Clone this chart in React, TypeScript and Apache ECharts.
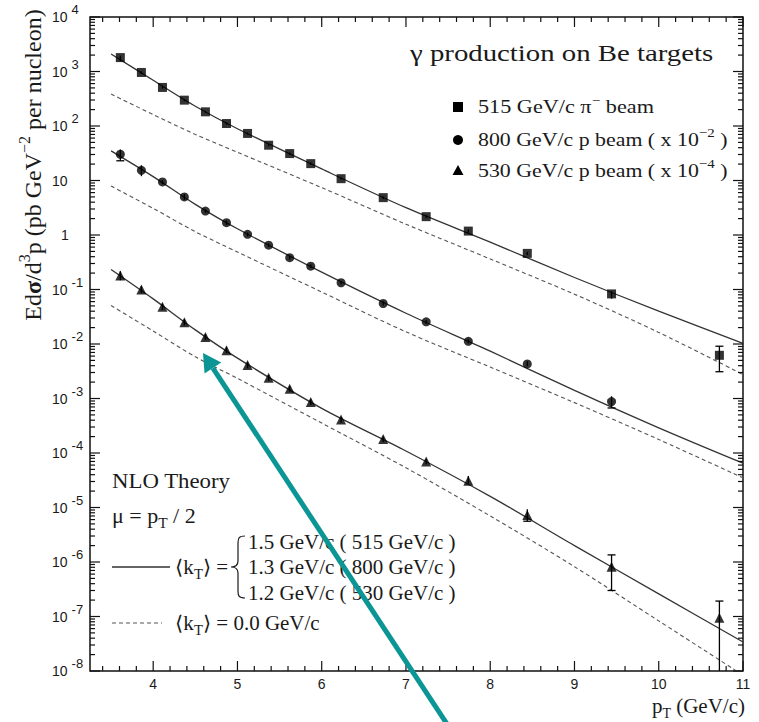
import React, { useEffect, useRef } from 'react';
import * as echarts from 'echarts';

// ---------- data ----------
const pT_pi515 = [3.61, 3.86, 4.11, 4.37, 4.62, 4.87, 5.12, 5.37, 5.62, 5.87, 6.23, 6.73, 7.24, 7.74, 8.44, 9.44, 10.72];
const xs_pi515 = [1800, 960, 510, 298, 182, 111, 73, 44.4, 31.2, 20.4, 10.8, 4.85, 2.17, 1.18, 0.46, 0.083, 0.0062];
const lo_pi515 = [1550, 900, 485, 285, 175, 106, 70, 42.5, 29.8, 19.5, 10.3, 4.6, 2.05, 1.1, 0.43, 0.068, 0.0031];
const hi_pi515 = [1950, 1010, 535, 310, 189, 116, 76, 46.4, 32.6, 21.3, 11.3, 5.1, 2.3, 1.26, 0.49, 0.093, 0.0091];

const pT_p800 = [3.61, 3.86, 4.11, 4.37, 4.62, 4.87, 5.12, 5.37, 5.62, 5.87, 6.23, 6.73, 7.24, 7.74, 8.44, 9.44];
const xs_p800 = [30.3, 15.4, 9.4, 5.0, 2.75, 1.68, 1.03, 0.65, 0.383, 0.268, 0.133, 0.0553, 0.0255, 0.0112, 0.0043, 0.00088];
const lo_p800 = [23, 12, 8.6, 4.4, 2.55, 1.52, 0.95, 0.6, 0.355, 0.248, 0.123, 0.051, 0.0235, 0.0103, 0.0039, 0.00067];
const hi_p800 = [37, 19, 10.2, 5.6, 2.95, 1.85, 1.11, 0.7, 0.41, 0.29, 0.143, 0.06, 0.0277, 0.0122, 0.0048, 0.0011];

const pT_p530 = [3.61, 3.86, 4.11, 4.37, 4.62, 4.87, 5.12, 5.37, 5.62, 5.87, 6.23, 6.73, 7.24, 7.74, 8.44, 9.44, 10.72];
const xs_p530 = [0.181, 0.1, 0.048, 0.0251, 0.0135, 0.0077, 0.0041, 0.0024, 0.00151, 0.00086, 0.00041, 0.00018, 7.0e-5, 3.1e-5, 7.3e-6, 8.2e-7, 9.5e-8];
const lo_p530 = [0.148, 0.086, 0.042, 0.022, 0.0119, 0.0068, 0.0036, 0.0021, 0.00134, 0.00076, 0.00036, 0.00016, 6.2e-5, 2.8e-5, 5.6e-6, 3.0e-7, 1e-8];
const hi_p530 = [0.217, 0.115, 0.055, 0.0285, 0.0152, 0.0087, 0.0046, 0.0027, 0.0017, 0.00097, 0.00046, 0.0002, 7.8e-5, 3.8e-5, 9.3e-6, 1.35e-6, 1.92e-7];

// NLO theory curves
const thX = [3.5, 4, 4.5, 5, 6, 7, 8, 9, 10, 11];
const nlo_pi515_kt = [2100, 690, 230, 89, 16.3, 3.17, 0.74, 0.166, 0.04, 0.0103];
const nlo_pi515_0 = [385, 162, 70, 33, 7.4, 1.58, 0.363, 0.082, 0.0163, 0.00275];
const nlo_p800_kt = [35, 11.8, 3.65, 1.3, 0.208, 0.0367, 0.00738, 0.00141, 2.9e-4, 6.5e-5];
const nlo_p800_0 = [7.9, 3.08, 1.15, 0.488, 0.0899, 0.0167, 0.00377, 8.4e-4, 1.77e-4, 3.5e-5];
const nlo_p530_kt = [0.233, 0.0673, 0.01815, 0.0055, 6.6e-4, 1.09e-4, 1.6e-5, 2.0e-6, 2.6e-7, 3.4e-8];
const nlo_p530_0 = [0.0508, 0.0173, 0.00583, 0.00234, 3.54e-4, 5.35e-5, 7.0e-6, 8.2e-7, 8.3e-8, 8.4e-9];

// axes
const X_MIN = 3.25;
const X_MAX = 11;
const Y_MIN = 1e-8;
const Y_MAX = 1e4;
const xTickLabels = [4, 5, 6, 7, 8, 9, 10, 11];
const yDecades = [1e-8, 1e-7, 1e-6, 1e-5, 1e-4, 1e-3, 1e-2, 1e-1, 1, 10, 100, 1e3, 1e4];

// ---------- styling ----------
const SERIF = 'Liberation Serif, serif';
const SANS = 'Liberation Sans, sans-serif';
const INK = '#1a1a1a';

echarts.graphic.registerShape(
  'brace',
  echarts.graphic.extendPath(
    'M16,0 C10,0 9,2 9,7 L9,25 C9,29 7,31 2,31 C7,31 9,33 9,37 L9,55 C9,60 10,62 16,62',
    {}
  )
);

// tick list (major + minor) for the frame
function buildTicks() {
  const out: number[][] = [];
  const xMinor: number[] = [];
  for (let i = 17; i < 55; i++) {
    const v = Math.round(i * 0.2 * 10) / 10;
    if (Math.abs(v - Math.round(v)) > 1e-6) xMinor.push(v);
  }
  xTickLabels.forEach((v) => { out.push([v, 1, 0, 10]); out.push([v, 1, 1, 10]); });
  xMinor.forEach((v) => { out.push([v, 1, 0, 5]); out.push([v, 1, 1, 5]); });
  yDecades.forEach((v) => { out.push([5, v, 2, 10]); out.push([5, v, 3, 10]); });
  for (let e = -8; e < 4; e++) {
    for (let k = 2; k <= 9; k++) {
      const v = k * Math.pow(10, e);
      out.push([5, v, 2, 5]);
      out.push([5, v, 3, 5]);
    }
  }
  return out;
}

function errorSeries(name: string, xs: number[], ys: number[], lo: number[], hi: number[]) {
  return {
    name,
    type: 'custom',
    z: 4,
    data: xs.map((x, i) => [x, ys[i], lo[i], hi[i]]),
    encode: { x: 0, y: 1 },
    renderItem: (params: any, api: any) => {
      const x = api.value(0);
      const pc = api.coord([x, api.value(1)]);
      const pl = api.coord([x, Math.max(api.value(2), Y_MIN)]);
      const ph = api.coord([x, api.value(3)]);
      const children: any[] = [
        { type: 'line', shape: { x1: ph[0], y1: ph[1], x2: pl[0], y2: pl[1] }, style: { stroke: '#000', lineWidth: 1.3 } },
      ];
      if (pc[1] - ph[1] > 6) {
        children.push({ type: 'line', shape: { x1: ph[0] - 4, y1: ph[1], x2: ph[0] + 4, y2: ph[1] }, style: { stroke: '#000', lineWidth: 1.3 } });
      }
      if (pl[1] - pc[1] > 6 && api.value(2) > Y_MIN) {
        children.push({ type: 'line', shape: { x1: pl[0] - 4, y1: pl[1], x2: pl[0] + 4, y2: pl[1] }, style: { stroke: '#000', lineWidth: 1.3 } });
      }
      return { type: 'group', children };
    },
  };
}

function curve(name: string, ys: number[], dashed: boolean) {
  return {
    name,
    type: 'line',
    z: 2,
    data: thX.map((x, i) => [x, ys[i]]),
    showSymbol: false,
    symbol: 'none',
    smooth: 0.3,
    clip: true,
    lineStyle: dashed
      ? { color: '#555', width: 1.1, type: [4, 3] }
      : { color: '#333', width: 1.3, type: 'solid' },
  };
}

function markers(name: string, xs: number[], ys: number[], symbol: string, size: number) {
  return {
    name,
    type: 'scatter',
    z: 5,
    symbol,
    symbolSize: size,
    data: xs.map((x, i) => [x, ys[i]]),
    itemStyle: { color: '#000' },
  };
}

const serifRich = (F: number) => {
  const s = Math.round(F * 0.68);
  return {
    n: { fontFamily: SERIF, fontSize: F, lineHeight: Math.round(F * 1.4), verticalAlign: 'middle', fill: INK },
    b: { fontFamily: SERIF, fontSize: F, fontWeight: 'bold', lineHeight: Math.round(F * 1.4), verticalAlign: 'middle', fill: INK },
    sup: { fontFamily: SERIF, fontSize: s, lineHeight: s, verticalAlign: 'top', fill: INK },
    sub: { fontFamily: SERIF, fontSize: s, lineHeight: s, verticalAlign: 'bottom', fill: INK },
  };
};

function txt(x: number, y: number, text: string, F: number, sx = 1, align = 'left', rotation = 0) {
  return {
    type: 'text',
    x,
    y,
    scaleX: sx,
    rotation,
    silent: true,
    style: {
      text,
      x: 0,
      y: 0,
      rich: serifRich(F),
      fontFamily: SERIF,
      fontSize: F,
      fill: INK,
      align,
      verticalAlign: 'middle',
      textAlign: align,
      textVerticalAlign: 'middle',
    },
  };
}

export default function App() {
  const ref = useRef<HTMLDivElement>(null);
  useEffect(() => {
    if (!ref.current) return;
    const chart = echarts.init(ref.current, undefined, { renderer: 'svg' });

    // arrow geometry (annotation overlay)
    const tip = [203, 353];
    const tail = [447, 724];
    const dx = tip[0] - tail[0];
    const dy = tip[1] - tail[1];
    const L = Math.hypot(dx, dy);
    const ux = dx / L;
    const uy = dy / L;
    const base = [tip[0] - ux * 18, tip[1] - uy * 18];
    const nx = -uy;
    const ny = ux;

    const option: any = {
      animation: false,
      backgroundColor: '#fff',
      grid: { left: 90, right: 16, top: 17, bottom: 51, show: true, borderColor: '#111', borderWidth: 1.5 },
      xAxis: {
        type: 'value',
        min: X_MIN,
        max: X_MAX,
        axisLine: { show: false },
        axisTick: { show: false },
        splitLine: { show: false },
        axisLabel: {
          customValues: xTickLabels,
          fontFamily: SANS,
          fontSize: 14,
          color: INK,
          margin: 6,
          formatter: (v: number) => String(v),
        },
      },
      yAxis: {
        type: 'log',
        logBase: 10,
        min: Y_MIN,
        max: Y_MAX,
        axisLine: { show: false },
        axisTick: { show: false },
        splitLine: { show: false },
        minorTick: { show: false },
        axisLabel: {
          customValues: yDecades,
          margin: 38,
          align: 'left',
          formatter: (v: number) => {
            const e = Math.round(Math.log10(v));
            if (e === 0) return '{q| }{b|1}';
            if (e === 1) return '{b|10}';
            return '{b|10}{e|' + e + '}';
          },
          rich: {
            b: { fontFamily: SANS, fontSize: 14, color: INK, lineHeight: 28, verticalAlign: 'middle' },
            e: { fontFamily: SANS, fontSize: 13, color: INK, lineHeight: 13, verticalAlign: 'top', padding: [0, 0, 0, 4] },
            q: { fontFamily: SANS, fontSize: 14, color: INK, lineHeight: 28, width: 9, verticalAlign: 'middle' },
          },
        },
      },
      series: [
        curve('NLO 515 π⁻ ⟨kT⟩=1.5', nlo_pi515_kt, false),
        curve('NLO 515 π⁻ ⟨kT⟩=0', nlo_pi515_0, true),
        curve('NLO 800 p ⟨kT⟩=1.3', nlo_p800_kt, false),
        curve('NLO 800 p ⟨kT⟩=0', nlo_p800_0, true),
        curve('NLO 530 p ⟨kT⟩=1.2', nlo_p530_kt, false),
        curve('NLO 530 p ⟨kT⟩=0', nlo_p530_0, true),
        errorSeries('err 515', pT_pi515, xs_pi515, lo_pi515, hi_pi515),
        errorSeries('err 800', pT_p800, xs_p800, lo_p800, hi_p800),
        errorSeries('err 530', pT_p530, xs_p530, lo_p530, hi_p530),
        markers('515 GeV/c π⁻ beam', pT_pi515, xs_pi515, 'rect', 9),
        markers('800 GeV/c p beam (x10⁻²)', pT_p800, xs_p800, 'circle', 9),
        markers('530 GeV/c p beam (x10⁻⁴)', pT_p530, xs_p530, 'triangle', 10),
        {
          name: 'ticks',
          type: 'custom',
          z: 6,
          silent: true,
          data: buildTicks(),
          encode: { x: 0, y: 1 },
          renderItem: (params: any, api: any) => {
            const cs = params.coordSys;
            const side = api.value(2);
            const len = api.value(3);
            const p = api.coord([api.value(0), api.value(1)]);
            let shape;
            if (side === 0) shape = { x1: p[0], y1: cs.y + cs.height, x2: p[0], y2: cs.y + cs.height - len };
            else if (side === 1) shape = { x1: p[0], y1: cs.y, x2: p[0], y2: cs.y + len };
            else if (side === 2) shape = { x1: cs.x, y1: p[1], x2: cs.x + len, y2: p[1] };
            else shape = { x1: cs.x + cs.width, y1: p[1], x2: cs.x + cs.width - len, y2: p[1] };
            return { type: 'line', shape, style: { stroke: '#111', lineWidth: 1.2 } };
          },
        },
      ],
      graphic: [
        // y-axis title
        txt(33, 165, '{n|Ed}{b|σ}{n|/d}{sup|3}{n|p (pb GeV}{sup|−2}{n| per nucleon)}', 24, 1, 'center', Math.PI / 2),
        // x-axis title
        txt(745, 706, '{n|p}{sub|T}{n| (GeV/c)}', 21, 1, 'right'),
        // plot title
        txt(410, 53, '{n|γ production on Be targets}', 24, 1.2),
        // legend
        { type: 'rect', shape: { x: 453, y: 102, width: 10, height: 10 }, style: { fill: '#000' } },
        { type: 'circle', shape: { cx: 458, cy: 140, r: 5 }, style: { fill: '#000' } },
        { type: 'polygon', shape: { points: [[458, 165], [463.5, 175], [452.5, 175]] }, style: { fill: '#000' } },
        txt(478, 107, '{n|515 GeV/c π}{sup|−}{n| beam}', 19, 1.17),
        txt(478, 140, '{n|800 GeV/c p beam ( x 10}{sup|−2}{n| )}', 19, 1.15),
        txt(478, 171, '{n|530 GeV/c p beam ( x 10}{sup|−4}{n| )}', 19, 1.15),
        // NLO theory block
        txt(112, 481, '{n|NLO Theory}', 20, 1.14),
        txt(112, 516, '{n|μ = p}{sub|T}{n| / 2}', 20, 1.1),
        { type: 'line', shape: { x1: 112, y1: 567, x2: 170, y2: 567 }, style: { stroke: '#333', lineWidth: 1.3 } },
        txt(175, 567, '{n|⟨k}{sub|T}{n|⟩ =}', 20, 1.05),
        { type: 'brace', x: 229, y: 536, style: { stroke: INK, fill: 'none', lineWidth: 1.2 } },
        txt(248, 542, '{n|1.5 GeV/c ( 515 GeV/c )}', 20, 1.05),
        txt(248, 567, '{n|1.3 GeV/c ( 800 GeV/c )}', 20, 1.05),
        txt(248, 593, '{n|1.2 GeV/c ( 530 GeV/c )}', 20, 1.05),
        { type: 'line', shape: { x1: 112, y1: 623, x2: 162, y2: 623 }, style: { stroke: '#555', lineWidth: 1.1, lineDash: [4, 3] } },
        txt(175, 623, '{n|⟨k}{sub|T}{n|⟩ = 0.0 GeV/c}', 20, 1.05),
        // teal annotation arrow
        {
          type: 'line',
          z: 100,
          shape: { x1: tail[0], y1: tail[1], x2: base[0], y2: base[1] },
          style: { stroke: '#0b9595', lineWidth: 5 },
        },
        {
          type: 'polygon',
          z: 100,
          shape: {
            points: [
              tip,
              [base[0] + nx * 10, base[1] + ny * 10],
              [base[0] - nx * 10, base[1] - ny * 10],
            ],
          },
          style: { fill: '#0b9595' },
        },
      ],
    };
    chart.setOption(option);
    return () => chart.dispose();
  }, []);

  return (
    <div
      ref={ref}
      style={{ position: 'fixed', left: 0, top: 0, width: 759, height: 722, background: '#fff' }}
    />
  );
}
